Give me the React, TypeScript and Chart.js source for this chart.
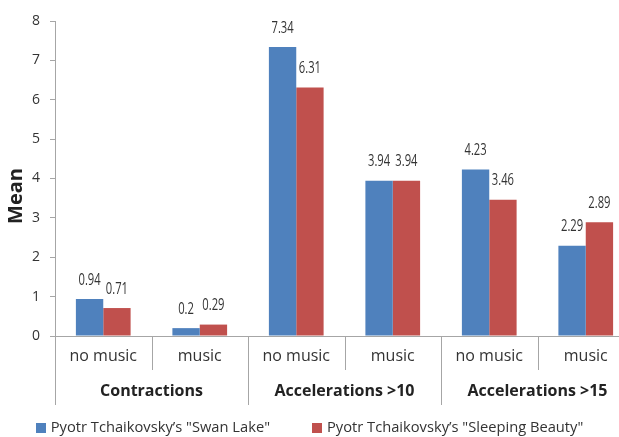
import React, { useEffect, useRef } from 'react';
import { Chart, registerables } from 'chart.js';

Chart.register(...registerables);

const subCategories = ['no music', 'music', 'no music', 'music', 'no music', 'music'];
const groups = ['Contractions', 'Accelerations >10', 'Accelerations >15'];
const swanLake = [0.94, 0.2, 7.34, 3.94, 4.23, 2.29];
const sleepingBeauty = [0.71, 0.29, 6.31, 3.94, 3.46, 2.89];
const seriesNames = ['Pyotr Tchaikovsky\u2019s "Swan Lake"', 'Pyotr Tchaikovsky\u2019s "Sleeping Beauty"'];
const yTitle = 'Mean';
const yMin = 0;
const yMax = 8;
const yStep = 1;

const BLUE = '#4F81BD';
const RED = '#C0504D';
const AXIS = '#a6a6a6';
const TEXT = '#333333';
const FONT = '"Open Sans", "Noto Sans", sans-serif';
const VIEW_W = 619;
const CANVAS_W = 640;
const CANVAS_H = 437;

const decorPlugin = {
  id: 'decor',
  afterDraw(chart: any) {
    const ctx = chart.ctx;
    const x = chart.scales.x;
    const area = chart.chartArea;
    const n = subCategories.length;
    const step = (x.right - x.left) / n;
    ctx.save();
    ctx.strokeStyle = AXIS;
    ctx.lineWidth = 1;
    for (let i = 0; i <= n; i++) {
      const px = Math.round(i === n ? x.getPixelForValue(n - 1) + step / 2 : x.getPixelForValue(i) - step / 2) + 0.5;
      const long = i % 2 === 0;
      ctx.beginPath();
      ctx.moveTo(px, area.bottom);
      ctx.lineTo(px, area.bottom + (long ? 69 : 34));
      ctx.stroke();
    }
    // y title
    ctx.fillStyle = '#222222';
    ctx.font = `bold 20px ${FONT}`;
    ctx.textAlign = 'center';
    ctx.textBaseline = 'middle';
    ctx.translate(16, 196);
    ctx.rotate(-Math.PI / 2);
    ctx.fillText(yTitle, 0, 0);
    ctx.restore();

    // legend
    ctx.save();
    ctx.font = `14.7px ${FONT}`;
    ctx.textBaseline = 'middle';
    ctx.textAlign = 'left';
    const box = 10;
    const gap = 5;
    const itemGap = 42;
    const colors = chart.data.datasets.map((d: any) => d.backgroundColor);
    const labels = chart.data.datasets.map((d: any) => d.label);
    const widths = labels.map((l: string) => ctx.measureText(l).width);
    const total = widths.reduce((a: number, w: number) => a + box + gap + w, 0) + itemGap * (labels.length - 1);
    let cx = (VIEW_W - total) / 2;
    const cy = 428;
    labels.forEach((l: string, i: number) => {
      ctx.fillStyle = colors[i];
      ctx.fillRect(Math.round(cx), cy - 5, box, box);
      ctx.fillStyle = TEXT;
      ctx.fillText(l, cx + box + gap, cy);
      cx += box + gap + widths[i] + itemGap;
    });
    ctx.restore();
  },
  afterDatasetsDraw(chart: any) {
    const ctx = chart.ctx;
    chart.data.datasets.forEach((ds: any, di: number) => {
      const meta = chart.getDatasetMeta(di);
      meta.data.forEach((el: any, i: number) => {
        ctx.save();
        ctx.font = `16px ${FONT}`;
        ctx.fillStyle = TEXT;
        ctx.textAlign = 'center';
        ctx.textBaseline = 'middle';
        ctx.translate(el.x, el.y - 19);
        ctx.scale(0.7, 1);
        ctx.fillText(String(ds.data[i]), 0, 0);
        ctx.restore();
      });
    });
  },
};

export default function App() {
  const ref = useRef<HTMLCanvasElement>(null);
  useEffect(() => {
    if (!ref.current) return;
    const chart = new Chart(ref.current, {
      type: 'bar',
      data: {
        labels: subCategories,
        datasets: [
          { label: seriesNames[0], data: swanLake, backgroundColor: BLUE, categoryPercentage: 0.567, barPercentage: 1 },
          { label: seriesNames[1], data: sleepingBeauty, backgroundColor: RED, categoryPercentage: 0.567, barPercentage: 1 },
        ],
      },
      options: {
        animation: false,
        responsive: false,
        events: [],
        layout: { padding: { top: 21, right: CANVAS_W - 634, bottom: 30, left: 0 } },
        plugins: { legend: { display: false }, tooltip: { enabled: false } },
        scales: {
          x: {
            type: 'category',
            position: 'bottom',
            offset: true,
            grid: { display: false, drawTicks: false },
            border: { display: true, color: AXIS, width: 1 },
            ticks: { font: { family: FONT, size: 16 }, color: TEXT, padding: 11, maxRotation: 0, autoSkip: false },
            afterFit: (s: any) => { s.height = 34; },
          },
          x2: {
            type: 'category',
            labels: groups,
            position: 'bottom',
            offset: true,
            grid: { display: false, drawTicks: false },
            border: { display: false },
            ticks: { font: { family: FONT, size: 16, weight: 'bold' }, color: '#222222', padding: 12, maxRotation: 0, autoSkip: false },
            afterFit: (s: any) => { s.height = CANVAS_H - 370 - 30; },
          },
          y: {
            min: yMin,
            max: yMax,
            ticks: { stepSize: yStep, font: { family: FONT, size: 14 }, color: TEXT, padding: 10 },
            grid: { display: true, drawOnChartArea: false, drawTicks: true, tickLength: 5, color: AXIS },
            border: { display: true, color: AXIS },
            afterFit: (s: any) => { s.width = 55; },
          },
        },
      } as any,
      plugins: [decorPlugin],
    });
    return () => chart.destroy();
  }, []);
  return (
    <div style={{ position: 'fixed', left: 0, top: 0, width: VIEW_W, height: CANVAS_H, overflow: 'hidden', background: '#fff' }}>
      <canvas ref={ref} width={CANVAS_W} height={CANVAS_H} style={{ display: 'block' }} />
    </div>
  );
}
